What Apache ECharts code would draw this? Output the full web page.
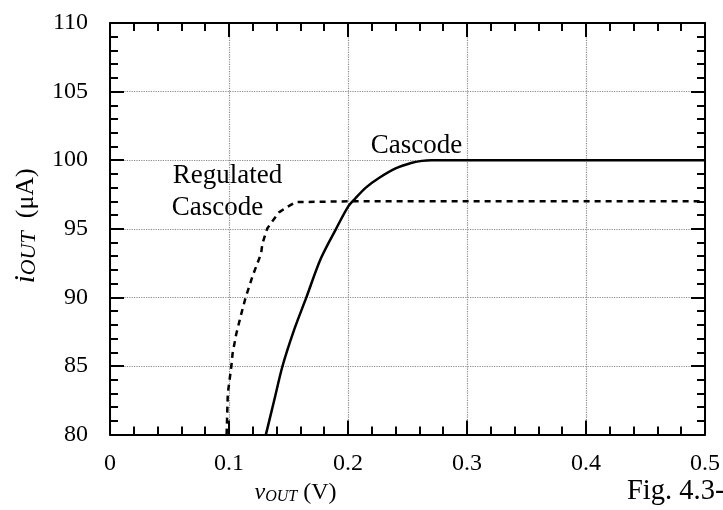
<!DOCTYPE html>
<html>
<head>
<meta charset="utf-8">
<script src="https://cdn.jsdelivr.net/npm/echarts@6/dist/echarts.min.js"></script>
<style>html,body{margin:0;padding:0;background:#fff}#c{width:723px;height:510px}</style>
</head>
<body>
<div id="c"></div>
<script>
// Data
var cascodeV = [0.131, 0.138, 0.145, 0.155, 0.165, 0.177, 0.190, 0.200, 0.206, 0.215, 0.226, 0.240, 0.253, 0.262, 0.270, 0.300, 0.400, 0.500];
var cascodeI = [80, 82.5, 85, 87.7, 90, 92.8, 95, 96.6, 97.2, 98.0, 98.7, 99.4, 99.8, 99.95, 100, 100, 100, 100];
var regV = [0.098, 0.099, 0.102, 0.103, 0.106, 0.110, 0.114, 0.120, 0.127, 0.128, 0.132, 0.136, 0.142, 0.149, 0.156, 0.200, 0.300, 0.400, 0.500];
var regI = [80, 83, 85, 85.9, 87.3, 88.7, 90, 91.6, 93.2, 93.9, 95, 95.5, 96.2, 96.6, 96.95, 97, 97, 97, 97];
var xTicks = [0, 0.1, 0.2, 0.3, 0.4, 0.5];
var yTicks = [80, 85, 90, 95, 100, 105, 110];
var xMinorStep = 0.02;
var yMinorStep = 1;
var labelCascode = 'Cascode';
var labelRegulated1 = 'Regulated';
var labelRegulated2 = 'Cascode';
var caption = 'Fig. 4.3-1';

function zip(a, b) { return a.map(function (v, i) { return [v, b[i]]; }); }

var FONT = 'Liberation Serif';
var xMin = xTicks[0], xMax = xTicks[xTicks.length - 1];
var yMin = yTicks[0], yMax = yTicks[yTicks.length - 1];
var chart = echarts.init(document.getElementById('c'));
var axisLine = { show: true, onZero: false, lineStyle: { color: '#000', width: 2 } };
var majorTick = { show: true, inside: true, length: 14, lineStyle: { color: '#000', width: 2 } };
var minorTickAx = { show: true, inside: true, length: 8, lineStyle: { color: '#000', width: 2 } };
var grid = { show: true, lineStyle: { color: '#8a8a8a', type: 'dotted', width: 1.2 } };
var labelStyle = { show: true, color: '#000', fontFamily: FONT, fontSize: 27, position: 'inside' };

function minorAxis(pos, min, max, step) {
  return { type: 'value', min: min, max: max, interval: step, position: pos,
    axisLine: { show: false, onZero: false }, axisTick: minorTickAx, axisLabel: { show: false },
    splitLine: { show: false } };
}

chart.setOption({
  animation: false,
  backgroundColor: '#fff',
  grid: { left: 110, top: 23, right: 15, bottom: 64, show: false },
  xAxis: [{
    type: 'value', min: xMin, max: xMax, interval: 0.1, position: 'bottom',
    axisLine: axisLine, axisTick: majorTick,
    axisLabel: { color: '#000', fontFamily: FONT, fontSize: 24, margin: 17,
      formatter: function (v) { return String(+v.toFixed(1)); } },
    splitLine: grid,
    name: '{i|v}{s|OUT}{n| (V)}', nameLocation: 'middle', nameGap: 38,
    nameTextStyle: { padding: [0, 224, 0, 0], rich: {
      i: { fontFamily: FONT, fontStyle: 'italic', fontSize: 24, color: '#000' },
      s: { fontFamily: FONT, fontStyle: 'italic', fontSize: 16, color: '#000', padding: [9, 0, 0, 0] },
      n: { fontFamily: FONT, fontSize: 24, color: '#000' } } }
  }, {
    type: 'value', min: xMin, max: xMax, interval: 0.1, position: 'top',
    axisLine: axisLine, axisTick: majorTick,
    axisLabel: { show: false }, splitLine: { show: false }
  },
    minorAxis('bottom', xMin, xMax, xMinorStep),
    minorAxis('top', xMin, xMax, xMinorStep)
  ],
  yAxis: [{
    type: 'value', min: yMin, max: yMax, interval: 5, position: 'left',
    axisLine: axisLine, axisTick: majorTick,
    axisLabel: { color: '#000', fontFamily: FONT, fontSize: 24, margin: 22 },
    splitLine: grid,
    name: '{i|i}{s|OUT}{n|  (μA)}', nameLocation: 'middle', nameGap: 67,
    nameTextStyle: { padding: [0, 0, 0, 6], rich: {
      i: { fontFamily: FONT, fontStyle: 'italic', fontSize: 29, color: '#000' },
      s: { fontFamily: FONT, fontStyle: 'italic', fontSize: 22, color: '#000', padding: [6, 0, 0, 0] },
      n: { fontFamily: FONT, fontSize: 26, color: '#000' } } }
  }, {
    type: 'value', min: yMin, max: yMax, interval: 5, position: 'right',
    axisLine: axisLine, axisTick: majorTick,
    axisLabel: { show: false }, splitLine: { show: false }
  },
    minorAxis('left', yMin, yMax, yMinorStep),
    minorAxis('right', yMin, yMax, yMinorStep)
  ],
  series: [{
    type: 'line', name: 'Cascode', data: zip(cascodeV, cascodeI), smooth: 0.3,
    xAxisIndex: 0, yAxisIndex: 0,
    showSymbol: false, symbol: 'none', clip: true,
    lineStyle: { color: '#000', width: 2.5, type: 'solid' },
    markPoint: { symbol: 'circle', symbolSize: 0, silent: true, label: labelStyle,
      data: [{ coord: [0.2575, 101.05], label: { formatter: labelCascode } }] }
  }, {
    type: 'line', name: 'Regulated Cascode', data: zip(regV, regI), smooth: false,
    xAxisIndex: 0, yAxisIndex: 0,
    showSymbol: false, symbol: 'none', clip: true,
    lineStyle: { color: '#000', width: 2.5, type: [6, 5] },
    markPoint: { symbol: 'circle', symbolSize: 0, silent: true, label: labelStyle,
      data: [
        { coord: [0.0987, 98.87], label: { formatter: labelRegulated1 } },
        { coord: [0.0903, 96.52], label: { formatter: labelRegulated2 } }
      ] }
  }],
  graphic: [{
    type: 'text', left: 627, top: 477, silent: true,
    style: { text: caption, fill: '#000', font: '28.5px "Liberation Serif"' }
  }]
});
</script>
</body>
</html>
